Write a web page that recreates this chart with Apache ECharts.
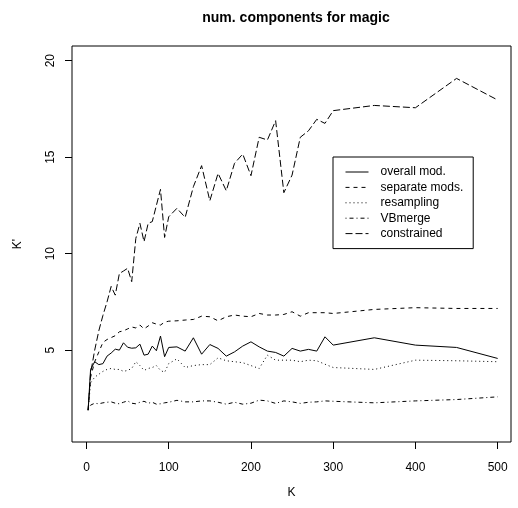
<!DOCTYPE html>
<html>
<head>
<meta charset="utf-8">
<script src="https://cdn.jsdelivr.net/npm/echarts@6/dist/echarts.min.js"></script>
<style>
html,body{margin:0;padding:0;background:#fff;}
#chart{width:518px;height:508px;}
</style>
</head>
<body>
<div id="chart"></div>
<script>
var K = [2,5,10,15,20,25,30,35,40,45,50,55,60,65,70,75,80,85,90,95,100,
  110,120,130,140,150,160,170,180,190,200,210,220,230,240,250,260,270,280,290,300,
  350,400,450,500];
var overallMod = [1.89,4.0,4.4,4.25,4.3,4.69,4.85,5.05,5.0,5.38,5.15,5.1,5.12,5.31,4.74,4.79,5.21,4.97,5.73,4.66,5.14,
  5.17,4.95,5.64,4.79,5.29,5.09,4.69,4.91,5.21,5.43,5.17,4.95,4.88,4.69,5.09,4.95,5.04,4.95,5.69,5.26,
  5.64,5.26,5.14,4.57];
var separateMods = [1.89,3.6,4.4,4.9,5.4,5.55,5.65,5.75,5.95,6.0,6.1,6.2,6.15,6.3,6.1,6.25,6.42,6.35,6.3,6.45,6.5,
  6.52,6.56,6.59,6.76,6.73,6.52,6.73,6.82,6.76,6.73,6.9,6.82,6.82,6.85,6.99,6.76,6.94,6.94,6.94,6.9,
  7.11,7.2,7.16,7.16];
var resampling = [1.89,3.3,3.6,3.75,3.9,4.0,4.05,4.0,4.0,3.9,3.95,4.05,4.4,4.2,3.95,4.05,4.1,4.2,3.95,3.85,4.3,
  4.55,4.1,4.2,4.25,4.25,4.6,4.45,4.4,4.35,4.2,4.05,4.74,4.48,4.48,4.48,4.4,4.48,4.45,4.27,4.1,
  4.0,4.48,4.45,4.4];
var vbMerge = [1.95,2.15,2.25,2.22,2.27,2.3,2.32,2.25,2.22,2.3,2.37,2.25,2.22,2.3,2.35,2.25,2.3,2.2,2.22,2.27,2.3,
  2.4,2.32,2.32,2.37,2.37,2.3,2.2,2.3,2.2,2.25,2.41,2.37,2.24,2.37,2.32,2.24,2.3,2.32,2.37,2.35,
  2.27,2.37,2.44,2.58];
var constrained = [1.89,3.8,5.0,6.0,6.8,7.5,8.3,7.85,8.97,9.1,9.24,8.55,10.79,11.57,10.62,11.57,11.66,12.5,13.33,10.84,11.91,
  12.35,11.88,13.47,14.56,12.74,14.16,13.26,14.68,15.16,14.04,16.03,15.89,16.89,13.16,14.07,16.03,16.37,16.96,16.75,17.41,
  17.68,17.56,19.08,17.96];
var xTicks = [0,100,200,300,400,500];
var yTicks = [5,10,15,20];
var seriesNames = ['overall mod.','separate mods.','resampling','VBmerge','constrained'];
var seriesValues = [overallMod, separateMods, resampling, vbMerge, constrained];
var seriesDash = ['solid',[4,4],[1,3],[1,3,4,3],[7,3]];

var FONT = "'Liberation Sans', Arial, Helvetica, sans-serif";

function pairs(vals){ return K.map(function(k,i){ return [k, vals[i]]; }); }

var chart = echarts.init(document.getElementById('chart'), null, {renderer:'canvas'});
var series = seriesNames.map(function(n,i){
  return {
    name: n, type: 'line', data: pairs(seriesValues[i]),
    symbol: 'none', showSymbol: false, smooth: false,
    lineStyle: {color:'#000', width:1, type: seriesDash[i]},
    itemStyle: {color:'#000'},
    emphasis: {disabled:true},
    silent: true
  };
});
chart.setOption({
  animation: false,
  backgroundColor: '#fff',
  title: {
    text: 'num. components for magic',
    left: 291, top: 6, textAlign: 'center',
    textStyle: {fontFamily: FONT, fontWeight: 'bold', fontSize: 14, color:'#000'}
  },
  grid: {left: 72, right: 7, top: 46, bottom: 66, show: true, borderColor: '#000', borderWidth: 1, containLabel: false},
  xAxis: {
    type: 'value', min: -17.6, max: 516.2,
    name: 'K', nameLocation: 'middle', nameGap: 45,
    nameTextStyle: {fontFamily: FONT, fontSize: 12, color:'#000'},
    axisLine: {show: false, onZero: false},
    splitLine: {show: false},
    axisTick: {show: true, inside: false, length: 7, customValues: xTicks, lineStyle:{color:'#000', width:1}},
    axisLabel: {customValues: xTicks, margin: 20, fontFamily: FONT, fontSize: 12, color:'#000'}
  },
  yAxis: {
    type: 'value', min: 0.24, max: 20.76,
    name: "K'", nameLocation: 'middle', nameGap: 48, nameRotate: 90,
    nameTextStyle: {fontFamily: FONT, fontSize: 12, color:'#000'},
    axisLine: {show: false, onZero: false},
    splitLine: {show: false},
    axisTick: {show: true, inside: false, length: 7, customValues: yTicks, lineStyle:{color:'#000', width:1}},
    axisLabel: {customValues: yTicks, rotate: 90, margin: 15, fontFamily: FONT, fontSize: 12, color:'#000'}
  },
  legend: {
    data: seriesNames, orient: 'vertical', left: 333, top: 157,
    padding: [9, 10, 9, 12], itemWidth: 23, itemHeight: 12, itemGap: 3.4,
    borderColor: '#000', borderWidth: 1, borderRadius: 0,
    itemStyle: {opacity: 0},
    lineStyle: {width: 1},
    textStyle: {fontFamily: FONT, fontSize: 12, color:'#000', padding:[0,0,0,7]},
    selectedMode: false
  },
  series: series
});
</script>
</body>
</html>
